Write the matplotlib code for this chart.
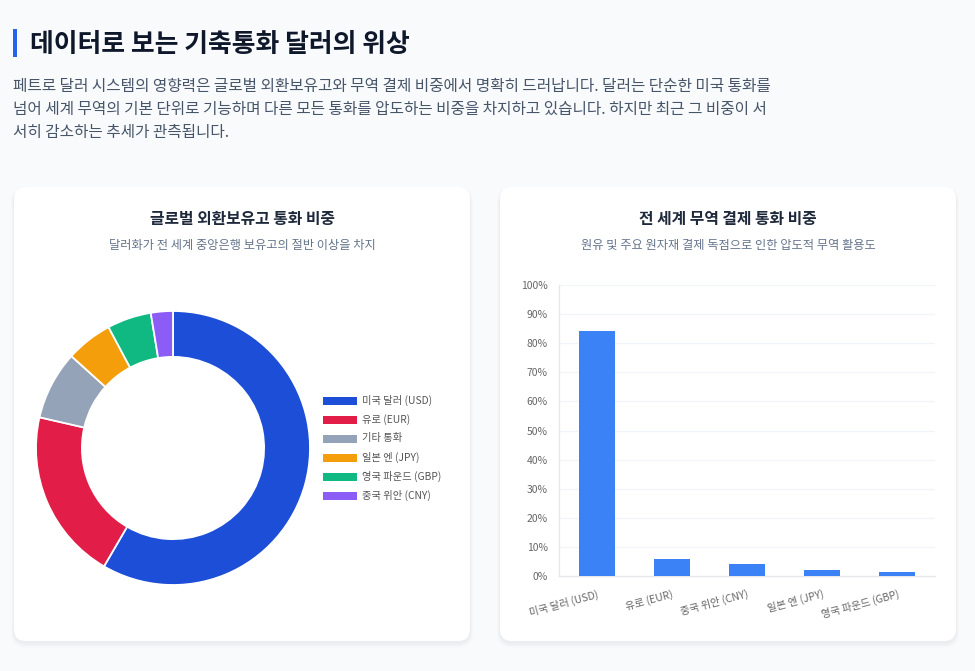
import matplotlib
matplotlib.use("Agg")
import matplotlib.pyplot as plt
from matplotlib.patches import FancyBboxPatch, Rectangle

plt.rcParams['font.family'] = ['Noto Sans CJK KR', 'DejaVu Sans']

# ---------------- data ----------------
title = "데이터로 보는 기축통화 달러의 위상"
intro_lines = [
    "페트로 달러 시스템의 영향력은 글로벌 외환보유고와 무역 결제 비중에서 명확히 드러납니다. 달러는 단순한 미국 통화를",
    "넘어 세계 무역의 기본 단위로 기능하며 다른 모든 통화를 압도하는 비중을 차지하고 있습니다. 하지만 최근 그 비중이 서",
    "서히 감소하는 추세가 관측됩니다.",
]

reserve_title = "글로벌 외환보유고 통화 비중"
reserve_sub = "달러화가 전 세계 중앙은행 보유고의 절반 이상을 차지"
reserve_labels = ["미국 달러 (USD)", "유로 (EUR)", "기타 통화", "일본 엔 (JPY)", "영국 파운드 (GBP)", "중국 위안 (CNY)"]
reserve_values = [58.4, 20.2, 8.1, 5.5, 5.2, 2.6]
reserve_colors = ["#1d4ed8", "#e11d48", "#94a3b8", "#f59e0b", "#10b981", "#8b5cf6"]

trade_title = "전 세계 무역 결제 통화 비중"
trade_sub = "원유 및 주요 원자재 결제 독점으로 인한 압도적 무역 활용도"
trade_labels = ["미국 달러 (USD)", "유로 (EUR)", "중국 위안 (CNY)", "일본 엔 (JPY)", "영국 파운드 (GBP)"]
trade_values = [84.3, 5.7, 4.2, 1.9, 1.4]
trade_ticks = [0, 10, 20, 30, 40, 50, 60, 70, 80, 90, 100]
trade_color = "#3b82f6"

# ---------------- figure ----------------
W, H = 975, 671
fig = plt.figure(figsize=(W / 100, H / 100), dpi=100)
fig.patch.set_facecolor("#f8fafc")

bg = fig.add_axes([0, 0, 1, 1])
bg.set_xlim(0, W)
bg.set_ylim(H, 0)
bg.axis("off")
bg.set_zorder(0)


def fx(x0, y0, w, h):
    return [x0 / W, 1 - (y0 + h) / H, w / W, h / H]


# header
bg.add_patch(Rectangle((13, 29), 3.5, 28, color="#2563eb", lw=0))
bg.text(30, 44, title, fontsize=18.6, fontweight="bold", color="#0f172a", va="center", ha="left")
for i, line in enumerate(intro_lines):
    bg.text(13, 86 + i * 23.5, line, fontsize=11.3, color="#475569", va="center", ha="left")

# cards with soft shadow
cards = [(14, 187, 456, 454), (500, 187, 456, 454)]
for (cx, cy, cw, ch) in cards:
    for k, a in [(6, 0.012), (4, 0.016), (2, 0.025)]:
        bg.add_patch(FancyBboxPatch((cx - k / 2, cy - k / 4 + 2), cw + k, ch + k,
                                    boxstyle="round,pad=0,rounding_size=14",
                                    fc="#0f172a", ec="none", alpha=a))
    bg.add_patch(FancyBboxPatch((cx, cy), cw, ch, boxstyle="round,pad=0,rounding_size=12",
                                fc="white", ec="none"))

# card titles
bg.text(242, 219, reserve_title, fontsize=11.4, fontweight="bold", color="#1e293b", ha="center", va="center")
bg.text(242, 246, reserve_sub, fontsize=8.8, color="#64748b", ha="center", va="center")
bg.text(728, 219, trade_title, fontsize=11.4, fontweight="bold", color="#1e293b", ha="center", va="center")
bg.text(728, 246, trade_sub, fontsize=8.8, color="#64748b", ha="center", va="center")

# ---------------- donut ----------------
R = 137
axd = fig.add_axes(fx(173 - R, 448 - R, 2 * R, 2 * R))
axd.set_zorder(2)
wedges, _ = axd.pie(reserve_values, colors=reserve_colors, startangle=90, counterclock=False,
                    radius=1, wedgeprops=dict(width=0.335, edgecolor="white", linewidth=1.3))
axd.set_xlim(-1, 1)
axd.set_ylim(-1, 1)
axd.set_aspect("equal")
axd.axis("off")

# legend
for i, (lab, col) in enumerate(zip(reserve_labels, reserve_colors)):
    y = 400.5 + i * 19
    bg.add_patch(Rectangle((323, y - 4), 34, 8, fc=col, ec="none"))
    bg.text(362, y, lab, fontsize=7.4, color="#555555", ha="left", va="center")

# ---------------- bars ----------------
axb = fig.add_axes(fx(559, 285, 376, 291))
axb.set_zorder(2)
axb.set_facecolor("none")
x = list(range(len(trade_labels)))
axb.bar(x, trade_values, width=0.48, color=trade_color, zorder=3)
axb.set_xlim(-0.5, len(trade_labels) - 0.5)
axb.set_ylim(0, 100)
axb.set_yticks(trade_ticks)
axb.set_yticklabels([f"{t}%" for t in trade_ticks])
axb.set_xticks(x)
axb.set_xticklabels(trade_labels, rotation=15, ha="right", rotation_mode="anchor")
axb.tick_params(axis="y", length=0, pad=8, labelsize=7.5, labelcolor="#666666")
axb.tick_params(axis="x", length=0, pad=9, labelsize=7.5, labelcolor="#666666")
axb.grid(axis="y", color="#f1f5f9", linewidth=0.9, zorder=0)
axb.set_axisbelow(True)
for s in ["top", "right"]:
    axb.spines[s].set_visible(False)
axb.spines["left"].set_color("#e5e7eb")
axb.spines["bottom"].set_color("#e5e7eb")
axb.spines["left"].set_linewidth(0.9)
axb.spines["bottom"].set_linewidth(0.9)

fig.savefig("out.png", dpi=100, facecolor=fig.get_facecolor())
